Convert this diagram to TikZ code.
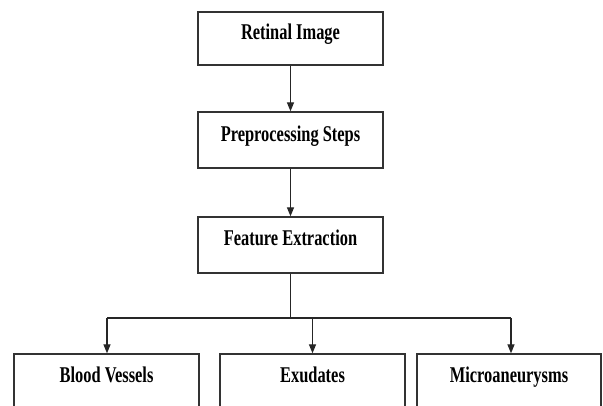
\documentclass[tikz,border=0pt]{standalone}
\usepackage{fontspec}
\setmainfont{Liberation Serif}
\usetikzlibrary{arrows.meta}
\newcommand{\narrowtext}[1]{\scalebox{0.73}[1]{#1}}
\begin{document}
\begin{tikzpicture}[x=1pt,y=-1pt,
  boxline/.style={draw=black!80, line width=1.3pt},
  label/.style={font=\fontsize{22.5}{26}\selectfont\bfseries, text=black, inner sep=0pt, anchor=base},
  link/.style={draw=black!85, line width=1.2pt},
  arr/.style={link, -{Triangle[length=9pt,width=7pt]}}]
\useasboundingbox (0,0) rectangle (603,405);
\begin{scope}
\clip (0,0) rectangle (603,405);
% main column boxes
\node[boxline, minimum width=185pt, minimum height=53pt, inner sep=0pt] (ri) at (290.5,38.5) {};
\node[boxline, minimum width=185pt, minimum height=56pt, inner sep=0pt] (pp) at (290.5,140) {};
\node[boxline, minimum width=185pt, minimum height=56pt, inner sep=0pt] (fe) at (290.5,245) {};
% result boxes, running off the lower edge
\node[boxline, minimum width=185pt, minimum height=80pt, inner sep=0pt] (bv) at (106.5,394) {};
\node[boxline, minimum width=185pt, minimum height=80pt, inner sep=0pt] (ex) at (312.5,394) {};
\node[boxline, minimum width=184pt, minimum height=80pt, inner sep=0pt] (ma) at (509,394) {};
\end{scope}
% box titles
\node[label] (tri) at (290.5,39) {\narrowtext{Retinal Image}};
\node[label] (tpp) at (290.5,141) {\narrowtext{Preprocessing Steps}};
\node[label] (tfe) at (290.5,245) {\narrowtext{Feature Extraction}};
\node[label] (tbv) at (106.5,382) {\narrowtext{Blood Vessels}};
\node[label] (tex) at (312.5,382) {\narrowtext{Exudates}};
\node[label] (tma) at (509,382) {\narrowtext{Microaneurysms}};
% connectors
\draw[arr] (ri.south) -- (pp.north);
\draw[arr] (pp.south) -- (fe.north);
\coordinate (split) at (290.5,318);
\draw[link] (fe.south) -- (split);
\draw[link] (107,318) -- (511,318);
\draw[arr] (107,318) -- (bv.north -| 107,0);
\draw[arr] (ex.north |- split) -- (ex.north);
\draw[arr] (511,318) -- (ma.north -| 511,0);
\end{tikzpicture}
\end{document}
